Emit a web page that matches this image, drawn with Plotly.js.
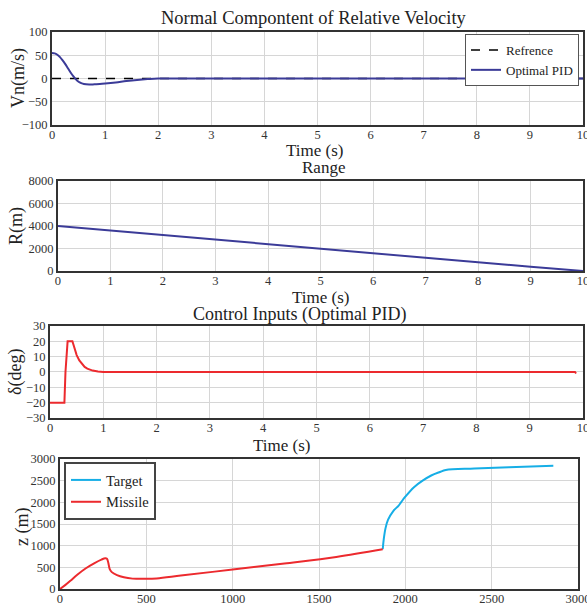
<!DOCTYPE html>
<html><head><meta charset="utf-8">
<script src="https://cdn.plot.ly/plotly-3.0.1.min.js"></script>
<style>html,body{margin:0;padding:0;background:#fff;}#c{width:587px;height:605px;}</style>
</head><body><div id="c"></div>
<script>
// Subplot 1: normal component of relative velocity
const tVn = [0, 0.05, 0.1, 0.15, 0.2, 0.25, 0.3, 0.35, 0.4, 0.45, 0.5, 0.55, 0.6, 0.7, 0.8, 0.9, 1.0, 1.2, 1.4, 1.6, 1.8, 2.0, 3, 4, 5, 6, 7, 8, 9, 10];
const vnPID = [55, 54, 51, 46, 39, 31, 22, 13, 5, -2, -7, -10, -12, -13, -12.5, -12, -11, -8.5, -5.5, -3, -1.2, 0, 0, 0, 0, 0, 0, 0, 0, 0];
const tRef = [0, 10];
const vnRef = [0, 0];
// Subplot 2: range
const tR = [0, 1, 2, 3, 4, 5, 6, 7, 8, 9, 10];
const rng = [4000, 3590, 3180, 2780, 2370, 1960, 1560, 1160, 770, 380, 0];
// Subplot 3: control inputs
const tU = [0, 0.27, 0.29, 0.31, 0.33, 0.42, 0.45, 0.5, 0.55, 0.6, 0.65, 0.7, 0.75, 0.8, 0.9, 1.0, 2, 4, 6, 8, 9.85, 9.87];
const uPID = [-20, -20, 0, 14, 20, 20, 16, 11, 7.5, 5, 3.3, 2.2, 1.4, 0.9, 0.3, 0, 0, 0, 0, 0, 0, -1];
// Subplot 4: trajectories
const xM = [0, 30, 60, 100, 150, 200, 240, 262, 272, 280, 288, 300, 330, 370, 420, 500, 560, 700, 1000, 1300, 1600, 1869];
const zM = [0, 90, 190, 330, 480, 600, 680, 710, 700, 600, 460, 390, 320, 270, 240, 235, 245, 310, 450, 590, 740, 918];
const xT = [1869, 1875, 1885, 1900, 1930, 1960, 1975, 2000, 2050, 2100, 2150, 2200, 2234, 2400, 2600, 2857];
const zT = [918, 1150, 1400, 1600, 1800, 1920, 2000, 2130, 2350, 2500, 2620, 2700, 2746, 2780, 2810, 2845];
// Tick labels
const timeTicks = [0, 1, 2, 3, 4, 5, 6, 7, 8, 9, 10];
const vnTicks = [-100, -50, 0, 50, 100];
const rTicks = [0, 2000, 4000, 6000, 8000];
const uTicks = [-30, -20, -10, 0, 10, 20, 30];
const xyTicks = [0, 500, 1000, 1500, 2000, 2500, 3000];

const FONT = 'Liberation Serif';
const BLUE = '#3b3b98', RED = '#ec2a2e', CYAN = '#16aee6';

const traces = [
  {x: tRef, y: vnRef, name: 'Refrence', mode: 'lines', line: {color: '#000', dash: 'dash', width: 1.5}, xaxis: 'x', yaxis: 'y', legend: 'legend'},
  {x: tVn, y: vnPID, name: 'Optimal PID', mode: 'lines', line: {color: BLUE, width: 2, shape: 'spline'}, xaxis: 'x', yaxis: 'y', legend: 'legend'},
  {x: tR, y: rng, name: 'Range', mode: 'lines', line: {color: BLUE, width: 2}, xaxis: 'x2', yaxis: 'y2', showlegend: false},
  {x: tU, y: uPID, name: 'delta', mode: 'lines', line: {color: RED, width: 2}, xaxis: 'x3', yaxis: 'y3', showlegend: false},
  {x: xT, y: zT, name: 'Target', mode: 'lines', line: {color: CYAN, width: 2, shape: 'spline'}, xaxis: 'x4', yaxis: 'y4', legend: 'legend2'},
  {x: xM, y: zM, name: 'Missile', mode: 'lines', line: {color: RED, width: 2, shape: 'spline'}, xaxis: 'x4', yaxis: 'y4', legend: 'legend2'}
];

function ax(extra) {
  return Object.assign({
    showline: true, mirror: true, linecolor: '#333', linewidth: 2,
    showgrid: true, gridcolor: '#d6d6d6', gridwidth: 1, zeroline: false,
    ticks: '', tickmode: 'array', ticklabeloverflow: 'allow',
    tickfont: {family: FONT, size: 12.5, color: '#333'}
  }, extra);
}
function xax(extra) { return ax(Object.assign({ticklabelstandoff: -3}, extra)); }
const H = 605, W = 587;
function ann(text, px, py, size, angle) {
  return {text: text, x: px / W, y: 1 - py / H, xref: 'paper', yref: 'paper', xanchor: 'center', yanchor: 'middle',
          borderpad: 0, showarrow: false, textangle: angle || 0, font: {family: FONT, size: size, color: '#222'}};
}

const layout = {
  width: W, height: H,
  margin: {l: 0, r: 0, t: 0, b: 0},
  paper_bgcolor: '#fff', plot_bgcolor: '#fff',
  font: {family: FONT, color: '#222'},
  showlegend: true,
  xaxis: xax({domain: [0.0886, 0.9932], range: [0, 10], tickvals: timeTicks, anchor: 'y'}),
  yaxis: ax({domain: [0.7934, 0.9471], range: [-100, 100], tickvals: vnTicks, anchor: 'x'}),
  xaxis2: xax({domain: [0.0988, 0.9932], range: [0, 10], tickvals: timeTicks, anchor: 'y2'}),
  yaxis2: ax({domain: [0.5521, 0.7008], range: [0, 8000], tickvals: rTicks, anchor: 'x2'}),
  xaxis3: xax({domain: [0.0852, 0.9932], range: [0, 10], tickvals: timeTicks, anchor: 'y3'}),
  yaxis3: ax({domain: [0.3091, 0.4612], range: [-30, 30], tickvals: uTicks, anchor: 'x3'}),
  xaxis4: xax({domain: [0.1022, 0.9847], range: [0, 3000], tickvals: xyTicks, anchor: 'y4'}),
  yaxis4: ax({domain: [0.0264, 0.2413], range: [0, 3000], tickvals: xyTicks, anchor: 'x4'}),
  legend: {x: 579 / W, y: 1 - 34 / H, xanchor: 'right', yanchor: 'top', bgcolor: '#fff', bordercolor: '#555', borderwidth: 1,
           font: {family: FONT, size: 13, color: '#222'}, tracegroupgap: 0, itemwidth: 30},
  legend2: {x: 64 / W, y: 1 - 462 / H, xanchor: 'left', yanchor: 'top', bgcolor: '#fff', bordercolor: '#444', borderwidth: 2,
           font: {family: FONT, size: 14.5, color: '#222'}, tracegroupgap: 0, itemwidth: 30},
  annotations: [
    ann('Normal Compontent of Relative Velocity', 314, 18, 18.5),
    ann('Time (s)', 314, 150, 17),
    ann('Vn(m/s)', 18, 78, 18, -90),
    ann('Range', 323, 167, 17),
    ann('Time (s)', 320, 297, 17),
    ann('R(m)', 16, 226, 18, -90),
    ann('Control Inputs (Optimal PID)', 300, 314, 18),
    ann('Time (s)', 281, 445, 17),
    ann('δ(deg)', 15, 372, 18, -90),
    ann('z (m)', 22, 527, 18, -90)
  ]
};

Plotly.newPlot('c', traces, layout, {staticPlot: true});
</script></body></html>
